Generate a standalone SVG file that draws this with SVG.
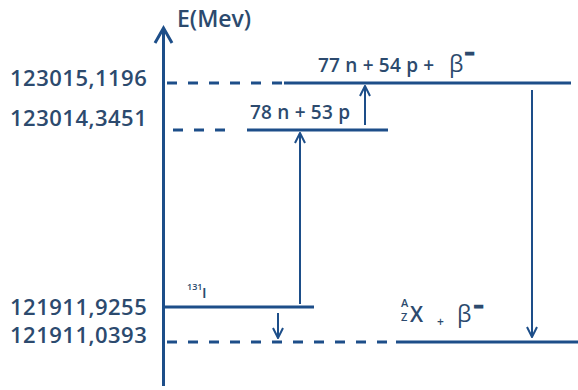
<svg xmlns="http://www.w3.org/2000/svg" width="578" height="390" viewBox="0 0 578 390">
<style>
.t{font-family:"Open Sans","Liberation Sans",sans-serif;font-weight:600;fill:#2c4a6e}
.lab{font-size:22px;letter-spacing:0.5px}
.lvl{stroke:#1d4e89;stroke-width:3;fill:none}
.dash{stroke:#1d4e89;stroke-width:3;fill:none;stroke-dasharray:10 11}
.arr{stroke:#1d4e89;stroke-width:2;fill:none}
.st{font-size:19px;letter-spacing:0.2px}
.beta{font-size:23px;font-weight:400}
.bar{font-family:"DejaVu Sans",sans-serif;font-size:11px;font-weight:bold;fill:#2c4a6e;stroke:#2c4a6e;stroke-width:2.4}
</style>
<defs>
<marker id="ah" viewBox="0 0 12 12" refX="11" refY="6" markerWidth="12" markerHeight="12" markerUnits="userSpaceOnUse" orient="auto">
<path d="M1,1 L11,6 L1,11" fill="none" stroke="#1d4e89" stroke-width="2"/>
</marker>
</defs>
<rect width="578" height="390" fill="#ffffff"/>
<g id="axis">
<line x1="163.5" y1="386" x2="163.5" y2="29" class="lvl"/>
<polyline points="155,43 163.5,28 172,43" class="lvl"/>
<text x="177" y="27" class="t" font-size="23">E(Mev)</text>
</g>
<g id="level-123015">
<text x="10" y="86" class="t lab">123015,1196</text>
<line x1="167" y1="83" x2="282" y2="83" class="dash"/>
<line x1="284" y1="83" x2="571" y2="83" class="lvl"/>
<text x="318" y="72" class="t st">77 n + 54 p +</text>
<text x="449" y="72" class="t beta">β</text>
<text x="465" y="57" class="bar">−</text>
</g>
<g id="level-123014">
<text x="10" y="126" class="t lab">123014,3451</text>
<line x1="173" y1="130" x2="236" y2="130" class="dash"/>
<line x1="247" y1="130" x2="388" y2="130" class="lvl"/>
<text x="250" y="119" class="t st">78 n + 53 p</text>
</g>
<g id="level-131I">
<text x="10" y="315" class="t lab">121911,9255</text>
<line x1="163" y1="307" x2="314" y2="307" class="lvl"/>
<text x="187" y="290" class="t" font-size="9" font-weight="400">131</text>
<text x="202" y="298" class="t" font-size="15">I</text>
</g>
<g id="level-121911">
<text x="10" y="343" class="t lab">121911,0393</text>
<line x1="167" y1="342" x2="394" y2="342" class="dash"/>
<line x1="396" y1="342" x2="578" y2="342" class="lvl"/>
<text x="401" y="307" class="t" font-size="11">A</text>
<text x="401" y="321" class="t" font-size="11">Z</text>
<text x="410" y="322" class="t" font-size="21" font-weight="400">X</text>
<text x="437" y="326" class="t" font-size="12">+</text>
<text x="457" y="322" class="t beta">β</text>
<text x="474" y="310" class="bar">−</text>
</g>
<g id="connectors">
<line x1="300" y1="304" x2="300" y2="133" class="arr" marker-end="url(#ah)"/>
<line x1="365" y1="125" x2="365" y2="86" class="arr" marker-end="url(#ah)"/>
<line x1="532" y1="90" x2="532" y2="337" class="arr" marker-end="url(#ah)"/>
<line x1="278" y1="313" x2="278" y2="338" class="arr" marker-end="url(#ah)"/>
</g>
</svg>
